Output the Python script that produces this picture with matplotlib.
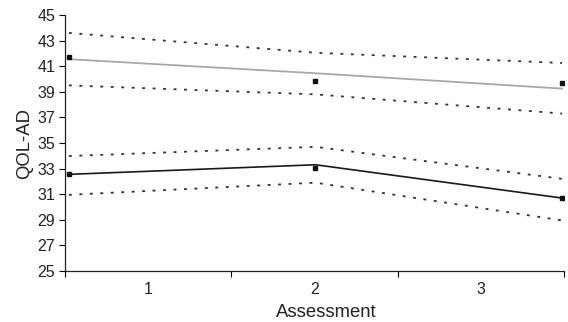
import matplotlib
matplotlib.use("Agg")
import matplotlib.pyplot as plt
import numpy as np

plt.rcParams['font.family'] = ['Liberation Sans', 'DejaVu Sans']

assessments = ["1", "2", "3"]
x_pos = [0, 1, 2]

# Gray group (upper)
gray_fit = [41.55, 40.45, 39.25]
gray_upper = [43.6, 42.05, 41.25]
gray_lower = [39.5, 38.8, 37.3]
gray_obs = [41.7, 39.85, 39.7]

# Black group (lower)
black_fit = [32.55, 33.3, 30.7]
black_upper = [33.98, 34.7, 32.2]
black_lower = [30.95, 31.9, 28.95]
black_obs = [32.55, 33.07, 30.73]

yticks = list(range(25, 46, 2))

fig = plt.figure(figsize=(5.68, 3.22), dpi=100)
ax = fig.add_axes([0.1144, 0.1584, 0.993 - 0.1144, 0.9534 - 0.1584])

dot = (0, (1.6, 4.2))
ax.plot(x_pos, gray_fit, color='#a8a8a8', lw=1.3)
ax.plot(x_pos, gray_upper, color='#333333', lw=1.3, linestyle=dot)
ax.plot(x_pos, gray_lower, color='#333333', lw=1.3, linestyle=dot)
ax.plot(x_pos, black_fit, color='#1a1a1a', lw=1.2)
ax.plot(x_pos, black_upper, color='#333333', lw=1.3, linestyle=dot)
ax.plot(x_pos, black_lower, color='#333333', lw=1.3, linestyle=dot)
ax.plot(x_pos, gray_obs, linestyle='none', marker='s', ms=2.2, color='#111111')
ax.plot(x_pos, black_obs, linestyle='none', marker='s', ms=2.2, color='#111111')

x0, x1 = -0.016, 2.008
ax.set_xlim(x0, x1)
ax.set_ylim(25, 45)
ax.set_yticks(yticks)
ax.set_yticklabels([str(t) for t in yticks], fontsize=11.5, color='#222222')

w = (x1 - x0) / 3
ax.set_xticks([x0 + w * i for i in range(4)])
ax.set_xticklabels([])
ax.set_xticks([x0 + w * (i + 0.5) for i in range(3)], minor=True)
ax.set_xticklabels(assessments, minor=True, fontsize=11.5, color='#222222')
ax.tick_params(axis='x', which='major', length=4.5, width=0.8, direction='out')
ax.tick_params(axis='x', which='minor', length=0, pad=8)
ax.tick_params(axis='y', length=4.5, width=0.8, direction='out', pad=2.5)

for s in ['top', 'right']:
    ax.spines[s].set_visible(False)
for s in ['left', 'bottom']:
    ax.spines[s].set_linewidth(0.9)
    ax.spines[s].set_color('#222222')

ax.set_ylabel("QOL-AD", fontsize=13.3, labelpad=3, color='#222222')
ax.set_xlabel("Assessment", fontsize=13.3, labelpad=5, color='#222222', x=0.524)

fig.savefig("out.png", dpi=100)
